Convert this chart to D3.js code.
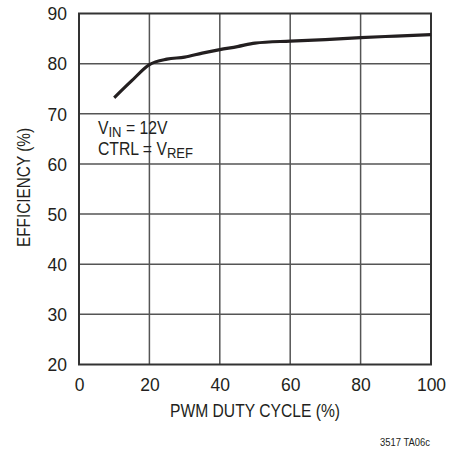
<!DOCTYPE html>
<html>
<head>
<meta charset="utf-8">
<script src="https://cdn.jsdelivr.net/npm/d3@7"></script>
<style>
  html, body { margin: 0; padding: 0; background: #fff; }
  svg text { font-family: "Liberation Sans", Arial, sans-serif; fill: #231f20; }
</style>
</head>
<body>
<svg id="chart" width="451" height="452"></svg>
<script>
// Efficiency vs PWM duty cycle
const dutyCycle = [10, 15, 20, 25, 30, 35, 40, 45, 50, 60, 70, 80, 90, 100];
const efficiency = [73.2, 76.6, 79.8, 80.9, 81.3, 82.1, 82.8, 83.4, 84.1, 84.5, 84.8, 85.2, 85.5, 85.8];
const xTicks = [0, 20, 40, 60, 80, 100];
const yTicks = [20, 30, 40, 50, 60, 70, 80, 90];

const svg = d3.select("#chart");
const plot = { left: 79, right: 431, top: 13.5, bottom: 364.5 };

const x = d3.scaleLinear().domain([0, 100]).range([plot.left, plot.right]);
const y = d3.scaleLinear().domain([20, 90]).range([plot.bottom, plot.top]);

// squeeze a text horizontally (condensed look) around its start point
function condense(sel, k, ox) {
  sel.attr("transform", `translate(${ox},0) scale(${k},1) translate(${-ox},0)`);
}

// grid
const grid = svg.append("g").attr("stroke", "#555").attr("stroke-width", 1.5);
grid.selectAll("line.v").data(xTicks.slice(1, -1)).join("line")
  .attr("x1", d => x(d)).attr("x2", d => x(d)).attr("y1", plot.top).attr("y2", plot.bottom);
grid.selectAll("line.h").data(yTicks.slice(1, -1)).join("line")
  .attr("y1", d => y(d)).attr("y2", d => y(d)).attr("x1", plot.left).attr("x2", plot.right);

// frame
svg.append("rect").attr("x", plot.left).attr("y", plot.top)
  .attr("width", plot.right - plot.left).attr("height", plot.bottom - plot.top)
  .attr("fill", "none").attr("stroke", "#333").attr("stroke-width", 2);

// tick labels via d3 axes (tick marks hidden)
const xAxis = svg.append("g").attr("transform", `translate(0,${plot.bottom})`)
  .call(d3.axisBottom(x).tickValues(xTicks).tickSize(0).tickPadding(10));
const yAxis = svg.append("g").attr("transform", `translate(${plot.left},0)`)
  .call(d3.axisLeft(y).tickValues(yTicks).tickSize(0).tickPadding(12));
[xAxis, yAxis].forEach(a => {
  a.select(".domain").remove();
  a.attr("font-family", null).attr("font-size", null);
  a.selectAll("text").attr("font-size", 17.5);
});
xAxis.selectAll("text").attr("dy", "0.95em");
yAxis.selectAll("text").attr("dy", "0.36em");

// curve
svg.append("path")
  .datum(dutyCycle.map((d, i) => [d, efficiency[i]]))
  .attr("fill", "none").attr("stroke", "#231f20").attr("stroke-width", 3.2)
  .attr("d", d3.line().x(d => x(d[0])).y(d => y(d[1])).curve(d3.curveMonotoneX));

// axis titles
svg.append("text").attr("x", 255).attr("y", 417).attr("text-anchor", "middle")
  .attr("font-size", 17.5).attr("textLength", 170).attr("lengthAdjust", "spacingAndGlyphs")
  .text("PWM DUTY CYCLE (%)");
svg.append("text").attr("transform", "translate(29.5,187.5) rotate(-90)")
  .attr("text-anchor", "middle").attr("font-size", 17.5)
  .attr("textLength", 119).attr("lengthAdjust", "spacingAndGlyphs")
  .text("EFFICIENCY (%)");

// annotation
const ann = svg.append("g").attr("font-size", 17.5);
const t1 = ann.append("text").attr("x", 98).attr("y", 134);
t1.append("tspan").text("V");
t1.append("tspan").attr("dy", 3).attr("font-size", 14.5).text("IN");
t1.append("tspan").attr("dy", -3).text(" = 12V");
const t2 = ann.append("text").attr("x", 98).attr("y", 155);
t2.append("tspan").text("CTRL = V");
t2.append("tspan").attr("dy", 3).attr("font-size", 14.5).text("REF");
condense(ann, 0.9, 98);

// figure id
svg.append("text").attr("x", 430).attr("y", 446).attr("text-anchor", "end")
  .attr("font-size", 10).attr("textLength", 50).attr("lengthAdjust", "spacingAndGlyphs")
  .text("3517 TA06c");
</script>
</body>
</html>
